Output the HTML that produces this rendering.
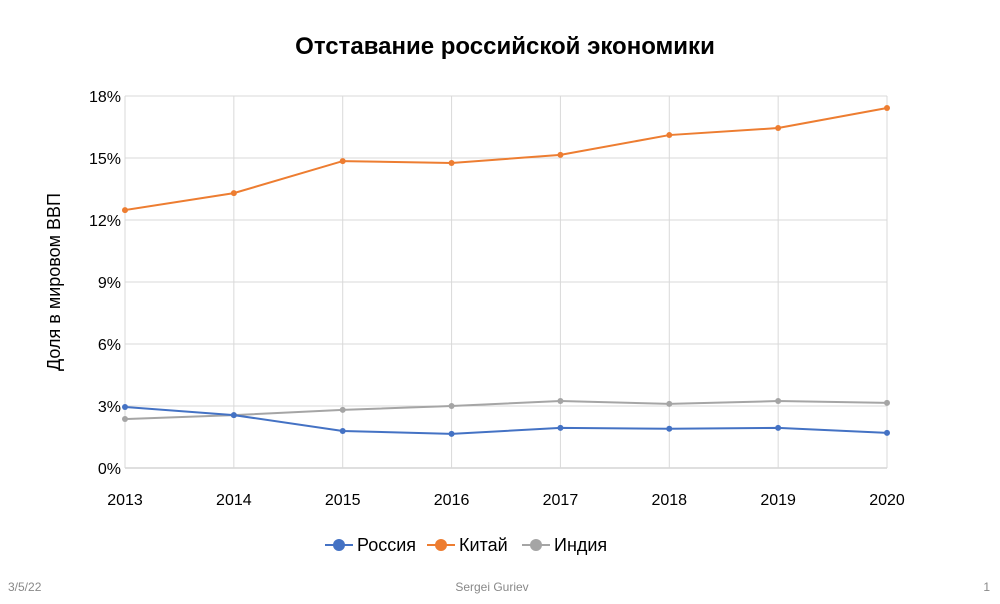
<!DOCTYPE html>
<html><head><meta charset="utf-8"><style>
body{margin:0;background:#fff;font-family:"Liberation Sans",sans-serif}
svg{display:block}
</style></head><body>
<svg width="1000" height="604" id="c">
<text x="505" y="54" text-anchor="middle" font-size="24" font-weight="bold" fill="#000">Отставание российской экономики</text>
<text transform="translate(60,282) rotate(-90)" text-anchor="middle" font-size="18" fill="#000">Доля в мировом ВВП</text>
<g id="grid"></g><g id="series"></g>
<g id="legend"></g>
<text x="8" y="591" font-size="12" fill="#888">3/5/22</text>
<text x="492" y="591" font-size="12" fill="#888" text-anchor="middle">Sergei Guriev</text>
<text x="990" y="591" font-size="12" fill="#888" text-anchor="end">1</text>
</svg>
<script>
const years=[2013,2014,2015,2016,2017,2018,2019,2020];
const russia=[2.95,2.56,1.79,1.65,1.94,1.9,1.94,1.7];
const china=[12.48,13.3,14.85,14.76,15.15,16.11,16.45,17.42];
const india=[2.37,2.56,2.81,3.0,3.24,3.1,3.24,3.15];
const yTicks=[0,3,6,9,12,15,18];
const NS="http://www.w3.org/2000/svg";
const x0=125,x1=887,yb=468,yt=96;
const xs=i=>x0+(x1-x0)*i/(years.length-1);
const ys=v=>yb-(yb-yt)*v/18;
function mk(t,a,p){const e=document.createElementNS(NS,t);for(const k in a)e.setAttribute(k,a[k]);p.appendChild(e);return e;}
const g=document.getElementById('grid');
yTicks.forEach(v=>{
 const l=mk('line',{x1:x0,x2:x1,y1:ys(v),y2:ys(v),stroke:v===0?'#bfbfbf':'#d9d9d9','stroke-width':1},g);
 
 
 const t=mk('text',{x:x0-4,y:ys(v)+6,'text-anchor':'end','font-size':16,fill:'#000'},g);
 t.textContent=v+'%';
 
 
});
years.forEach((y,i)=>{
 const l=mk('line',{x1:xs(i),x2:xs(i),y1:yt,y2:yb,stroke:'#d9d9d9','stroke-width':1},g);
 
 
 const t=mk('text',{x:xs(i),y:505,'text-anchor':'middle','font-size':16,fill:'#000'},g);
 t.textContent=y;
 
 
});
const sg=document.getElementById('series');
[[china,'#ed7d31','china'],[india,'#a5a5a5','india'],[russia,'#4472c4','russia']].forEach(([d,c,n])=>{
 const p=mk('polyline',{points:d.map((v,i)=>xs(i)+','+ys(v)).join(' '),fill:'none',stroke:c,'stroke-width':2},sg);
 
 
 d.forEach((v,i)=>{
  const m=mk('circle',{cx:xs(i),cy:ys(v),r:3,fill:c},sg);
  
  
 });
});
const lg=document.getElementById('legend');
[['Россия','#4472c4',325],['Китай','#ed7d31',427],['Индия','#a5a5a5',522]].forEach(([n,c,x])=>{
 const e=mk('g',{},lg);
 
 
 mk('line',{x1:x,x2:x+28,y1:545,y2:545,stroke:c,'stroke-width':2},e);
 mk('circle',{cx:x+14,cy:545,r:6,fill:c},e);
 const t=mk('text',{x:x+32,y:551,'font-size':18,fill:'#000'},e);
 t.textContent=n;
});
</script>
</body></html>
